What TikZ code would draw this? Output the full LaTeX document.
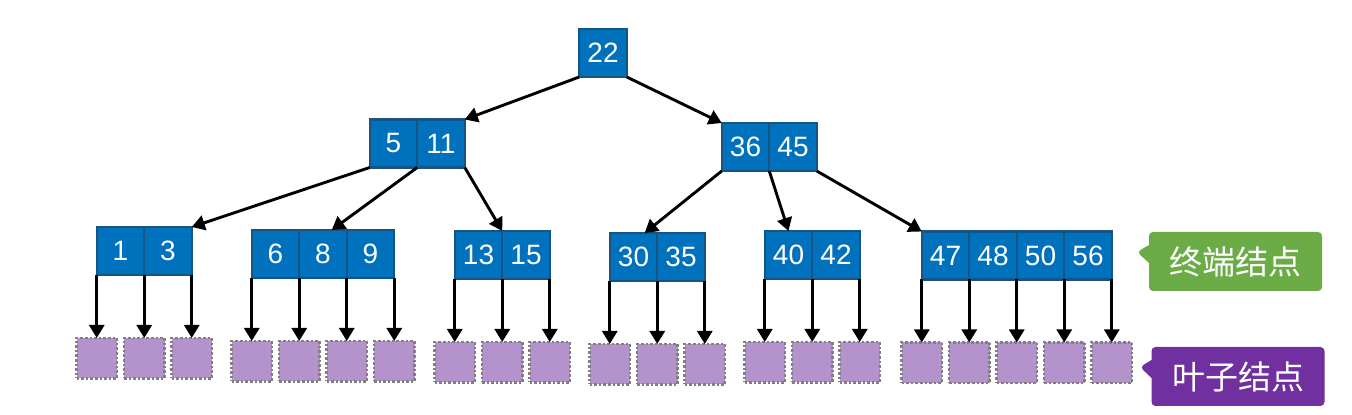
\documentclass[tikz,border=0pt]{standalone}
\usepackage{fontspec}
\setmainfont{Liberation Sans}
\newfontfamily\cjk{Noto Sans CJK SC}
\usetikzlibrary{shapes.callouts, arrows.meta, positioning}
\definecolor{keyblue}{RGB}{0,113,188}
\definecolor{keyedge}{RGB}{22,84,132}
\definecolor{leafpurple}{RGB}{180,146,204}
\definecolor{tagpurple}{RGB}{112,48,160}
\definecolor{taggreen}{RGB}{108,172,70}
\tikzstyle{keycell} = [rectangle, minimum width=23.75pt, minimum height=24pt, inner sep=0pt,
outer sep=0pt, draw=keyedge, line width=1.1pt, fill=keyblue, text=white, font=\fontsize{14pt}{15pt}\selectfont]
\tikzstyle{leaf} = [rectangle, minimum size=20.25pt, inner sep=0pt, outer sep=0pt, draw=gray,
line width=1.1pt, dash pattern=on 1.3pt off 1pt, fill=leafpurple]
\tikzstyle{tag} = [rectangle callout, rounded corners=2pt, minimum width=86.5pt, minimum height=29.5pt,
callout pointer width=9pt, text=white, font=\cjk\fontsize{16.5pt}{18pt}\selectfont]
\tikzstyle{arrow} = [line width=1.45pt, -{Triangle[length=6.5pt, width=7.5pt]}]

\begin{document}
\begin{tikzpicture}[x=0.5pt, y=-0.5pt, node distance=0pt]
  \useasboundingbox (0,0) rectangle (1352,415);

  \node (k22) [keycell] at (603,53) {22};

  \node (k5) [keycell] at (393.5,143.5) {5};
  \node (k11) [keycell, right=of k5] {11};
  \node (k36) [keycell] at (745.5,147) {36};
  \node (k45) [keycell, right=of k36] {45};

  \node (k1) [keycell] at (120.5,251) {1};
  \node (k3) [keycell, right=of k1] {3};
  \node (k6) [keycell] at (275.5,254) {6};
  \node (k8) [keycell, right=of k6] {8};
  \node (k9) [keycell, right=of k8] {9};
  \node (k13) [keycell] at (478.5,255) {13};
  \node (k15) [keycell, right=of k13] {15};
  \node (k30) [keycell] at (633.5,257) {30};
  \node (k35) [keycell, right=of k30] {35};
  \node (k40) [keycell] at (788.5,255) {40};
  \node (k42) [keycell, right=of k40] {42};
  \node (k47) [keycell] at (945.5,255.5) {47};
  \node (k48) [keycell, right=of k47] {48};
  \node (k50) [keycell, right=of k48] {50};
  \node (k56) [keycell, right=of k50] {56};

  \node (lf1) [leaf, below=31.5pt of k1.south west] {};
  \node (lf2) [leaf, below=31.5pt of k3.south west] {};
  \node (lf3) [leaf, below=31.5pt of k3.south east] {};
  \node (lf4) [leaf, below=31.5pt of k6.south west] {};
  \node (lf5) [leaf, below=31.5pt of k8.south west] {};
  \node (lf6) [leaf, below=31.5pt of k9.south west] {};
  \node (lf7) [leaf, below=31.5pt of k9.south east] {};
  \node (lf8) [leaf, below=31.5pt of k13.south west] {};
  \node (lf9) [leaf, below=31.5pt of k15.south west] {};
  \node (lf10) [leaf, below=31.5pt of k15.south east] {};
  \node (lf11) [leaf, below=31.5pt of k30.south west] {};
  \node (lf12) [leaf, below=31.5pt of k35.south west] {};
  \node (lf13) [leaf, below=31.5pt of k35.south east] {};
  \node (lf14) [leaf, below=31.5pt of k40.south west] {};
  \node (lf15) [leaf, below=31.5pt of k42.south west] {};
  \node (lf16) [leaf, below=31.5pt of k42.south east] {};
  \node (lf17) [leaf, below=31.5pt of k47.south west] {};
  \node (lf18) [leaf, below=31.5pt of k48.south west] {};
  \node (lf19) [leaf, below=31.5pt of k50.south west] {};
  \node (lf20) [leaf, below=31.5pt of k56.south west] {};
  \node (lf21) [leaf, below=31.5pt of k56.south east] {};

  \node (endtag) [tag, fill=taggreen, callout absolute pointer={(1137,252)}] at (1235.5,261.5) {终端结点};
  \node (leaftag) [tag, fill=tagpurple, callout absolute pointer={(1140,367)}] at (1238,376.5) {叶子结点};

  \draw [arrow] (k22.south west) -- (k11.north east);
  \draw [arrow] (k22.south east) -- (k36.north west);
  \draw [arrow] (k5.south west) -- (k3.north east);
  \draw [arrow] (k5.south east) -- (k8.70);
  \draw [arrow] (k11.south east) -- (k13.north east);
  \draw [arrow] (k36.south west) -- (k30.65);
  \draw [arrow] (k36.south east) -- (k40.north);
  \draw [arrow] (k45.south east) -- (k47.north west);

  \draw [arrow] (k1.south west) -- (lf1);
  \draw [arrow] (k3.south west) -- (lf2);
  \draw [arrow] (k3.south east) -- (lf3);
  \draw [arrow] (k6.south west) -- (lf4);
  \draw [arrow] (k8.south west) -- (lf5);
  \draw [arrow] (k9.south west) -- (lf6);
  \draw [arrow] (k9.south east) -- (lf7);
  \draw [arrow] (k13.south west) -- (lf8);
  \draw [arrow] (k15.south west) -- (lf9);
  \draw [arrow] (k15.south east) -- (lf10);
  \draw [arrow] (k30.south west) -- (lf11);
  \draw [arrow] (k35.south west) -- (lf12);
  \draw [arrow] (k35.south east) -- (lf13);
  \draw [arrow] (k40.south west) -- (lf14);
  \draw [arrow] (k42.south west) -- (lf15);
  \draw [arrow] (k42.south east) -- (lf16);
  \draw [arrow] (k47.south west) -- (lf17);
  \draw [arrow] (k48.south west) -- (lf18);
  \draw [arrow] (k50.south west) -- (lf19);
  \draw [arrow] (k56.south west) -- (lf20);
  \draw [arrow] (k56.south east) -- (lf21);
\end{tikzpicture}
\end{document}
